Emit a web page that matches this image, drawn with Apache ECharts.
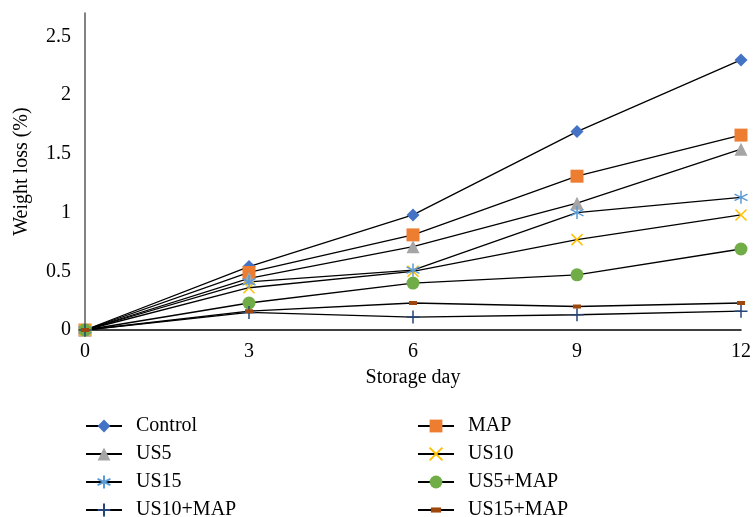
<!DOCTYPE html>
<html>
<head>
<meta charset="utf-8">
<script src="https://cdn.jsdelivr.net/npm/echarts@6/dist/echarts.min.js"></script>
<style>html,body{margin:0;padding:0;background:#fff}#c{width:754px;height:517px}</style>
</head>
<body>
<div id="c"></div>
<script>
const days = [0, 3, 6, 9, 12];
const yTicks = [0, 0.5, 1, 1.5, 2, 2.5];
const control = [0, 0.54, 0.98, 1.69, 2.30];
const map = [0, 0.49, 0.81, 1.31, 1.66];
const us5 = [0, 0.44, 0.71, 1.08, 1.54];
const us10 = [0, 0.36, 0.50, 0.77, 0.98];
const us15 = [0, 0.41, 0.51, 1.00, 1.13];
const us5map = [0, 0.23, 0.40, 0.47, 0.69];
const us10map = [0, 0.15, 0.11, 0.13, 0.16];
const us15map = [0, 0.16, 0.23, 0.20, 0.23];

const FONT = '"Liberation Serif", "DejaVu Serif", serif';
const pairs = v => days.map((d, i) => [d, v[i]]);

function mk(name, vals, symbol, size, fill, stroke) {
  return {
    name: name, type: 'line', data: pairs(vals),
    symbol: symbol, symbolSize: size,
    lineStyle: { color: '#000', width: 1.3 },
    itemStyle: stroke ? { color: 'none', borderColor: stroke, borderWidth: 1.5 } : { color: fill, borderWidth: 0 },
    emphasis: { disabled: true }, animation: false
  };
}
const XPATH = 'path://M0,0L10,10M10,0L0,10';
const STAR = 'path://M5,0L5,10M0.67,2.5L9.33,7.5M9.33,2.5L0.67,7.5';
const PLUS = 'path://M5,0L5,10M0,5L10,5';
const DASH = 'path://M0,0M10,10M1,3L9,3L9,7L1,7Z';

const series = [
  mk('Control', control, 'diamond', 13, '#4472C4'),
  mk('MAP', map, 'rect', 13, '#ED7D31'),
  mk('US5', us5, 'triangle', 13, '#A5A5A5'),
  mk('US10', us10, XPATH, 11, null, '#FFC000'),
  mk('US15', us15, STAR, 13, null, '#5B9BD5'),
  mk('US5+MAP', us5map, 'circle', 13, '#70AD47'),
  mk('US10+MAP', us10map, PLUS, 13, null, '#264478'),
  mk('US15+MAP', us15map, DASH, 10, '#9E480E')
];

const legendCommon = {
  orient: 'vertical', top: 416, height: 104, padding: 0,
  itemWidth: 36, itemHeight: 16, itemGap: 8,
  textStyle: { fontFamily: FONT, fontSize: 20, lineHeight: 20, color: '#000', padding: [0, 0, 0, 9] },
  selectedMode: false
};

const chart = echarts.init(document.getElementById('c'));
chart.setOption({
  backgroundColor: '#fff',
  animation: false,
  grid: { left: 85, right: 9, top: 13, bottom: 187, containLabel: false },
  xAxis: {
    type: 'value', min: 0, max: 12, interval: 3,
    name: 'Storage day', nameLocation: 'middle', nameGap: 38,
    nameTextStyle: { fontFamily: FONT, fontSize: 20, color: '#000' },
    axisLine: { show: true, lineStyle: { color: '#000', width: 1.5 } },
    axisTick: { show: false },
    splitLine: { show: false },
    axisLabel: { fontFamily: FONT, fontSize: 20, color: '#000', margin: 12 }
  },
  yAxis: {
    type: 'value', min: 0, max: 2.7, interval: 0.5,
    name: 'Weight loss (%)', nameLocation: 'middle', nameGap: 53,
    nameTextStyle: { fontFamily: FONT, fontSize: 20, color: '#000' },
    axisLine: { show: true, lineStyle: { color: '#595959', width: 1.5 } },
    axisTick: { show: false },
    splitLine: { show: false },
    axisLabel: { fontFamily: FONT, fontSize: 20, color: '#000', margin: 14, showMaxLabel: false,
      formatter: v => yTicks.indexOf(v) >= 0 ? String(v) : '' }
  },
  legend: [
    Object.assign({}, legendCommon, { left: 85, data: ['Control', 'US5', 'US15', 'US10+MAP'] }),
    Object.assign({}, legendCommon, { left: 417, data: ['MAP', 'US10', 'US5+MAP', 'US15+MAP'] })
  ],
  series: series
});
</script>
</body>
</html>
